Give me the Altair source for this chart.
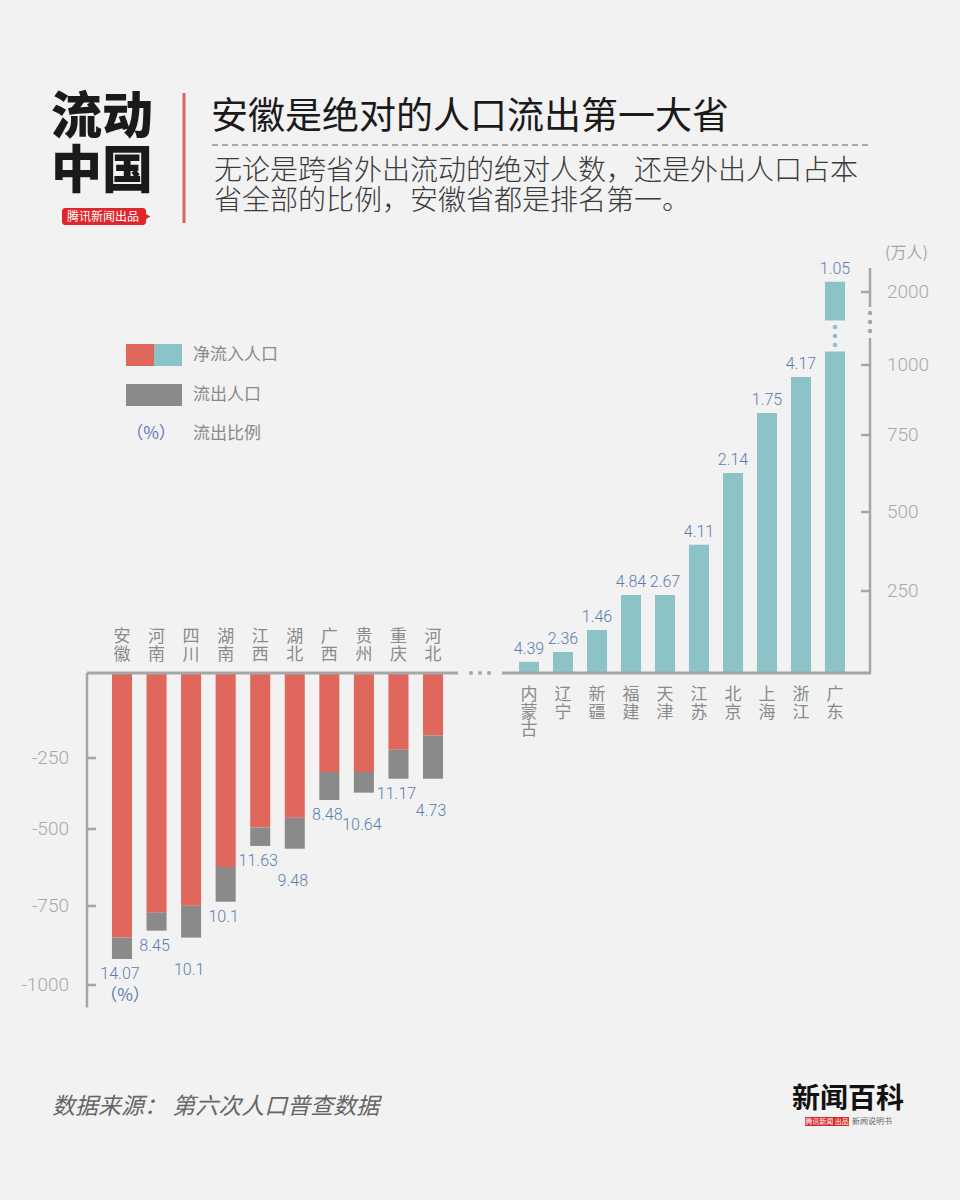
import altair as alt
import pandas as pd

# ---------------- data ----------------
out_names = ["安徽", "河南", "四川", "湖南", "江西", "湖北", "广西", "贵州", "重庆", "河北"]
out_net = [-850, -771, -749, -623, -495, -460, -299, -299, -226, -184]      # 净流入人口 (negative)
out_total = [-918, -828, -850, -736, -555, -564, -398, -372, -323, -323]    # 流出人口
out_pct = ["14.07", "8.45", "10.1", "10.1", "11.63", "9.48", "8.48", "10.64", "11.17", "4.73"]

in_names = ["内蒙古", "辽宁", "新疆", "福建", "天津", "江苏", "北京", "上海", "浙江", "广东"]
in_net = [34, 64, 131, 238, 238, 396, 627, 829, 957, 2035]
in_pct = ["4.39", "2.36", "1.46", "4.84", "2.67", "4.11", "2.14", "1.75", "4.17", "1.05"]

left_ticks = [-250, -500, -750, -1000]
right_ticks = [250, 500, 750, 1000, 2000]

BREAK_LO, BREAK_HI = 1050, 1900   # broken-axis interval for 广东

# ---------------- style ----------------
BG = "#f2f2f2"
RED = "#e0675b"
TEAL = "#8cc3c6"
GRAY = "#8a8a8a"
BLUE = "#5a7db0"
AXIS = "#a6a6a6"
TICKTXT = "#a8a8a8"
NAMETXT = "#8a8a8a"
CJK = "Noto Sans CJK SC"
NUM = "Roboto"

# piecewise y scale reproducing the infographic's axis
Y_DOMAIN = [-1100, -1000, -750, -500, -250, 0, 250, 500, 750, 1000, BREAK_LO, BREAK_HI, 2000, 2100]
Y_RANGE = [1017, 985, 906, 829, 758, 673, 591, 512, 435, 365, 351, 321, 292, 263]
yscale = alt.Scale(domain=Y_DOMAIN, range=Y_RANGE, nice=False, zero=False)

xl = alt.Scale(domain=out_names, range=[104.7, 450.3], paddingInner=0.42, paddingOuter=0.21)
xr = alt.Scale(domain=in_names, range=[512, 852], paddingInner=0.41, paddingOuter=0.205)

# label lanes: push a percentage label down when its bar ends at nearly the same
# depth as the previous bar (so neighbouring labels do not collide)
lanes = []
for i, v in enumerate(out_total):
    if i > 0 and abs(v - out_total[i - 1]) < 40 and lanes[-1] == 0:
        lanes.append(1)
    else:
        lanes.append(0)

left_df = pd.DataFrame({
    "lp": out_names, "net": out_net, "out": out_total, "pct": out_pct, "zero": 0, "lane": lanes,
})
right_df = pd.DataFrame({"rp": in_names, "net": in_net, "pct": in_pct, "zero": 0})
brk_df = right_df[right_df["net"] > BREAK_HI].assign(lo=BREAK_LO, hi=BREAK_HI)
brk_dots = pd.DataFrame({
    "rp": [brk_df["rp"].iloc[0]] * 3,
    "v": [BREAK_LO + (BREAK_HI - BREAK_LO) * f for f in (0.2, 0.5, 0.8)],
})
lt_df = pd.DataFrame({"t": left_ticks, "lab": [str(t) for t in left_ticks]})
rt_df = pd.DataFrame({"t": right_ticks, "lab": [str(t) for t in right_ticks]})
one = pd.DataFrame({"a": [0]})

# one row per character for the vertical province names
lchars = pd.DataFrame([{"lp": n, "ch": c, "row": k} for n in out_names for k, c in enumerate(n)])
rchars = pd.DataFrame([{"rp": n, "ch": c, "row": k} for n in in_names for k, c in enumerate(n)])

XL = alt.X("lp:N", scale=xl, axis=None)
XR = alt.X("rp:N", scale=xr, axis=None)


def Y(field):
    return alt.Y(field, type="quantitative", scale=yscale, axis=None)


def YD(v):
    return alt.YDatum(v, type="quantitative", scale=yscale, axis=None)


layers = []

# ---- left panel: outflow provinces ----
layers.append(alt.Chart(left_df).mark_bar(color=RED).encode(x=XL, y=Y("net"), y2="zero:Q"))
layers.append(alt.Chart(left_df).mark_bar(color=GRAY).encode(x=XL, y=Y("out"), y2="net:Q"))
for lane, dy in ((0, 7), (1, 24)):
    layers.append(alt.Chart(left_df).transform_filter(alt.datum.lane == lane)
                  .mark_text(baseline="top", dy=dy, dx=-2, fontSize=16, font=NUM, fontWeight=300, color=BLUE)
                  .encode(x=XL, y=Y("out"), text="pct:N"))
layers.append(alt.Chart(left_df.iloc[:1]).mark_text(baseline="top", dy=29, dx=3, fontSize=17, font=CJK, color=BLUE)
              .encode(x=XL, y=Y("out"), text=alt.value("（%）")))
for row, yy in ((0, 637), (1, 654.5)):
    layers.append(alt.Chart(lchars).transform_filter(alt.datum.row == row)
                  .mark_text(baseline="middle", fontSize=17, font=CJK, color=NAMETXT)
                  .encode(x=XL, y=alt.value(yy), text="ch:N"))

# ---- right panel: inflow provinces ----
layers.append(alt.Chart(right_df).mark_bar(color=TEAL).encode(x=XR, y=Y("net"), y2="zero:Q"))
layers.append(alt.Chart(brk_df).mark_bar(color=BG, stroke=BG, strokeWidth=1)
              .encode(x=XR, y=Y("lo"), y2="hi:Q"))
layers.append(alt.Chart(brk_dots).mark_circle(color=TEAL, opacity=1, size=22)
              .encode(x=XR, y=Y("v")))
layers.append(alt.Chart(right_df).mark_text(baseline="bottom", dy=-5, fontSize=16, font=NUM,
                                            fontWeight=300, color=BLUE)
              .encode(x=XR, y=Y("net"), text="pct:N"))
for row, yy in ((0, 695), (1, 712.5), (2, 730)):
    layers.append(alt.Chart(rchars).transform_filter(alt.datum.row == row)
                  .mark_text(baseline="middle", fontSize=17, font=CJK, color=NAMETXT)
                  .encode(x=XR, y=alt.value(yy), text="ch:N"))

# ---- axes ----
layers.append(alt.Chart(one).mark_rule(color=AXIS, strokeWidth=3)
              .encode(x=alt.value(87), x2=alt.value(458), y=YD(0)))
layers.append(alt.Chart(one).mark_rule(color=AXIS, strokeWidth=3)
              .encode(x=alt.value(502), x2=alt.value(871), y=YD(0)))
layers.append(alt.Chart(one).mark_rule(color=AXIS, strokeWidth=2.5)
              .encode(x=alt.value(87), y=YD(0), y2=alt.Y2Datum(-1070)))
layers.append(alt.Chart(lt_df).mark_rule(color=AXIS, strokeWidth=2.5)
              .encode(x=alt.value(87), x2=alt.value(96), y=Y("t")))
layers.append(alt.Chart(lt_df).mark_text(align="right", baseline="middle", fontSize=19, font=NUM,
                                         fontWeight=300, color=TICKTXT)
              .encode(x=alt.value(69), y=Y("t"), text="lab:N"))
layers.append(alt.Chart(one).mark_rule(color=AXIS, strokeWidth=2.5)
              .encode(x=alt.value(870), y=YD(0), y2=alt.value(338)))
layers.append(alt.Chart(one).mark_rule(color=AXIS, strokeWidth=2.5)
              .encode(x=alt.value(870), y=alt.value(268), y2=alt.value(307)))
layers.append(alt.Chart(rt_df).mark_rule(color=AXIS, strokeWidth=2.5)
              .encode(x=alt.value(861), x2=alt.value(870), y=Y("t")))
layers.append(alt.Chart(rt_df).mark_text(align="left", baseline="middle", fontSize=19, font=NUM,
                                         fontWeight=300, color=TICKTXT)
              .encode(x=alt.value(887), y=Y("t"), text="lab:N"))
layers.append(alt.Chart(one).mark_text(align="left", baseline="middle", fontSize=16, font=CJK, color=TICKTXT)
              .encode(x=alt.value(885), y=alt.value(253), text=alt.value("(万人)")))
for yy in (313, 322, 331):
    layers.append(alt.Chart(one).mark_circle(color=AXIS, opacity=1, size=20)
                  .encode(x=alt.value(870), y=alt.value(yy)))
for xx in (471, 480, 489):
    layers.append(alt.Chart(one).mark_circle(color=AXIS, opacity=1, size=16)
                  .encode(x=alt.value(xx), y=alt.value(673)))

# ---- legend ----
layers.append(alt.Chart(one).mark_rect(color=RED)
              .encode(x=alt.value(126), x2=alt.value(154), y=alt.value(344), y2=alt.value(366)))
layers.append(alt.Chart(one).mark_rect(color=TEAL)
              .encode(x=alt.value(154), x2=alt.value(182), y=alt.value(344), y2=alt.value(366)))
layers.append(alt.Chart(one).mark_rect(color=GRAY)
              .encode(x=alt.value(126), x2=alt.value(182), y=alt.value(384), y2=alt.value(406)))
layers.append(alt.Chart(one).mark_text(align="center", baseline="middle", fontSize=17, font=CJK, color=BLUE)
              .encode(x=alt.value(151), y=alt.value(434), text=alt.value("（%）")))
for txt, yy in (("净流入人口", 355), ("流出人口", 395), ("流出比例", 434)):
    layers.append(alt.Chart(one).mark_text(align="left", baseline="middle", fontSize=17, font=CJK, color=NAMETXT)
                  .encode(x=alt.value(193), y=alt.value(yy), text=alt.value(txt)))

# ---- header ----
for txt, yy in (("流动", 119), ("中国", 173)):
    layers.append(alt.Chart(one).mark_text(align="left", baseline="middle", fontSize=51, font=CJK,
                                           fontWeight=900, color="#1a1a1a")
                  .encode(x=alt.value(51), y=alt.value(yy), text=alt.value(txt)))
layers.append(alt.Chart(one).mark_rect(color="#e0262a", cornerRadius=3)
              .encode(x=alt.value(62), x2=alt.value(146), y=alt.value(208), y2=alt.value(225)))
layers.append(alt.Chart(one).mark_point(shape="triangle-right", filled=True, color="#e0262a", opacity=1, size=30)
              .encode(x=alt.value(148), y=alt.value(216.5)))
layers.append(alt.Chart(one).mark_text(align="center", baseline="middle", fontSize=12, font=CJK, color="white")
              .encode(x=alt.value(103), y=alt.value(216.5), text=alt.value("腾讯新闻出品")))
layers.append(alt.Chart(one).mark_rule(color="#d9695e", strokeWidth=3)
              .encode(x=alt.value(184), y=alt.value(93), y2=alt.value(223)))
layers.append(alt.Chart(one).mark_text(align="left", baseline="middle", fontSize=37, font=CJK, color="#1a1a1a")
              .encode(x=alt.value(211), y=alt.value(118), text=alt.value("安徽是绝对的人口流出第一大省")))
layers.append(alt.Chart(one).mark_rule(color="#aaaaaa", strokeWidth=2, strokeDash=[6, 4])
              .encode(x=alt.value(212), x2=alt.value(868), y=alt.value(145)))
for txt, yy in (("无论是跨省外出流动的绝对人数，还是外出人口占本", 172),
                ("省全部的比例，安徽省都是排名第一。", 202)):
    layers.append(alt.Chart(one).mark_text(align="left", baseline="middle", fontSize=28, font=CJK,
                                           fontWeight=300, color="#3a3a3a")
                  .encode(x=alt.value(214), y=alt.value(yy), text=alt.value(txt)))

# ---- footer ----
layers.append(alt.Chart(one).mark_text(align="left", baseline="middle", fontSize=23, font=CJK,
                                       fontStyle="italic", color="#666666")
              .encode(x=alt.value(52), y=alt.value(1107), text=alt.value("数据来源：  第六次人口普查数据")))
layers.append(alt.Chart(one).mark_text(align="left", baseline="middle", fontSize=28, font=CJK,
                                       fontWeight="bold", color="#111111")
              .encode(x=alt.value(792), y=alt.value(1100), text=alt.value("新闻百科")))
layers.append(alt.Chart(one).mark_rect(color="#d8262a")
              .encode(x=alt.value(805), x2=alt.value(849), y=alt.value(1117), y2=alt.value(1126)))
layers.append(alt.Chart(one).mark_text(align="center", baseline="middle", fontSize=7, font=CJK, color="white")
              .encode(x=alt.value(827), y=alt.value(1121.5), text=alt.value("腾讯新闻 出品")))
layers.append(alt.Chart(one).mark_text(align="left", baseline="middle", fontSize=8, font=CJK, color="#666666")
              .encode(x=alt.value(852), y=alt.value(1121.5), text=alt.value("新闻说明书")))

chart = (
    alt.layer(*layers)
    .resolve_scale(x="independent")
    .properties(width=960, height=1200, background=BG, padding=0, autosize="none")
    .configure_view(stroke=None)
)

chart.save("out.html", embed_options={"renderer": "svg", "actions": False})
